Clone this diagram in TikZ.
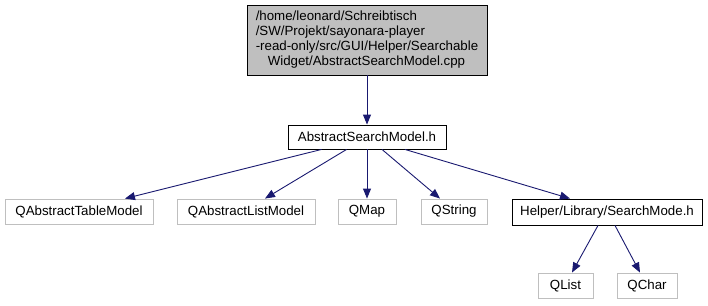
\documentclass[tikz,border=0pt]{standalone}
\usepackage{fontspec}
\setmainfont{Liberation Sans}
\usetikzlibrary{arrows.meta,positioning}
\definecolor{edgeblue}{HTML}{191970}
\definecolor{extgray}{HTML}{BFBFBF}

\begin{document}
\begin{tikzpicture}[x=1pt, y=-1pt,
    every node/.append style={font=\fontsize{13.3}{15}\selectfont, inner sep=0pt},
    file/.style={draw=black, line width=0.9pt, minimum height=24pt},
    extern/.style={draw=extgray, line width=0.9pt, minimum height=25pt},
    dep/.style={draw=edgeblue, line width=0.9pt, -{Triangle[length=10pt,width=8pt]}}]
    \useasboundingbox (0,0) rectangle (708,305);
    \node(src)[file, fill=extgray, minimum width=240pt, minimum height=70pt, align=left] at (367,40)
      {/home/leonard/Schreibtisch\\/SW/Projekt/sayonara-player\\-read-only/src/GUI/Helper/Searchable\\\hspace*{12pt}Widget/AbstractSearchModel.cpp};
    \node(asm)[file, minimum width=158pt] at (367,137) {AbstractSearchModel.h};
    \node(tablemodel)[extern, minimum width=148pt] at (79,211.5) {QAbstractTableModel};
    \node(listmodel)[extern, minimum width=138pt] at (246,211.5) {QAbstractListModel};
    \node(qmap)[extern, minimum width=58pt] at (367,211.5) {QMap};
    \node(qstring)[extern, minimum width=66pt] at (454,211.5) {QString};
    \node(searchmode)[file, minimum width=190pt, minimum height=26pt] at (607,212) {Helper/Library/SearchMode.h};
    \node(qlist)[extern, minimum width=55pt] at (565.5,285.5) {QList};
    \node(qchar)[extern, minimum width=60pt] at (647,285.5) {QChar};

    \draw[dep] (src) -- (asm);
    \draw[dep] ([xshift=34pt]asm.south west) -- ([xshift=46pt]tablemodel.north);
    \draw[dep] ([xshift=59pt]asm.south west) -- ([xshift=19pt]listmodel.north);
    \draw[dep] (asm) -- (qmap);
    \draw[dep] ([xshift=15pt]asm.south) -- ([xshift=-14pt]qstring.north);
    \draw[dep] ([xshift=38pt]asm.south) -- ([xshift=-37pt]searchmode.north);
    \draw[dep] ([xshift=-9pt]searchmode.south) -- ([xshift=6.5pt]qlist.north);
    \draw[dep] ([xshift=8pt]searchmode.south) -- ([xshift=-7pt]qchar.north);
\end{tikzpicture}
\end{document}
